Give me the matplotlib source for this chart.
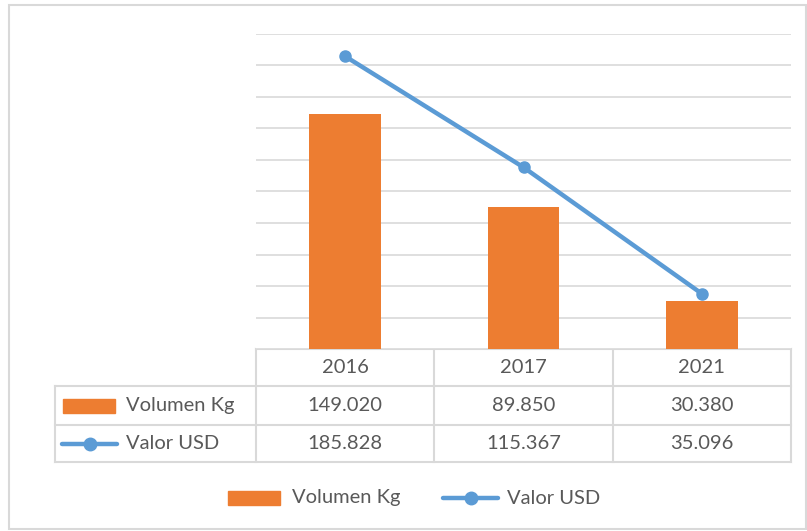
import matplotlib
matplotlib.use("Agg")
import matplotlib.pyplot as plt
from matplotlib.patches import Rectangle
from matplotlib.lines import Line2D

years = ["2016", "2017", "2021"]
volumen_kg = [149020, 89850, 30380]
valor_usd = [185828, 115367, 35096]
volumen_lbl = ["149.020", "89.850", "30.380"]
valor_lbl = ["185.828", "115.367", "35.096"]
series_names = ["Volumen Kg", "Valor USD"]

ORANGE = "#ED7D31"
BLUE = "#5B9BD5"
GRID = "#D9D9D9"
TXT = "#595959"
FONT = ["Lato", "DejaVu Sans"]
FS = 14.5

W, H = 807, 531
fig = plt.figure(figsize=(W / 100, H / 100), dpi=100)

# plot area in pixels
left, right, top, bottom = 256, 791, 34, 349
ax = fig.add_axes([left / W, 1 - bottom / H, (right - left) / W, (bottom - top) / H])
x = range(len(years))
ax.bar(x, volumen_kg, width=0.4, color=ORANGE, zorder=2)
ax.plot(x, valor_usd, color=BLUE, lw=3.2, marker="o", ms=8, zorder=3,
        solid_capstyle="round")
ax.set_xlim(-0.5, len(years) - 0.5)
ax.set_ylim(0, 200000)
ax.set_yticks(range(0, 200001, 20000))
ax.grid(axis="y", color=GRID, lw=1.2, zorder=0)
ax.tick_params(left=False, bottom=False, labelleft=False, labelbottom=False)
for s in ax.spines.values():
    s.set_visible(False)

# overlay in pixel coordinates for border, data table and legend
ov = fig.add_axes([0, 0, 1, 1], zorder=-1)
ov.set_xlim(0, W)
ov.set_ylim(H, 0)
ov.axis("off")
ov.add_patch(Rectangle((9, 5), 797, 524, fill=False, ec=GRID, lw=1.5))

col_w = (right - left) / len(years)
rows = [349, 386, 425, 462]
lab_left = 55
lk = dict(color=GRID, lw=1.5)
# horizontal table lines
ov.plot([left, right], [rows[0], rows[0]], **lk)
for r in rows[1:]:
    ov.plot([lab_left, right], [r, r], **lk)
# vertical table lines
ov.plot([lab_left, lab_left], [rows[1], rows[3]], **lk)
for i in range(len(years) + 1):
    xx = left + i * col_w
    ov.plot([xx, xx], [rows[0], rows[3]], **lk)

tk = dict(color=TXT, fontsize=FS, family=FONT, ha="center", va="center")
for i, yr in enumerate(years):
    cx = left + (i + 0.5) * col_w
    ov.text(cx, (rows[0] + rows[1]) / 2, yr, **tk)
    ov.text(cx, (rows[1] + rows[2]) / 2, volumen_lbl[i], **tk)
    ov.text(cx, (rows[2] + rows[3]) / 2, valor_lbl[i], **tk)

# row keys
def key_bar(x0, yc):
    ov.add_patch(Rectangle((x0, yc - 7), 52, 14, color=ORANGE))

def key_line(x0, yc):
    ov.add_line(Line2D([x0, x0 + 55], [yc, yc], color=BLUE, lw=3.2,
                       solid_capstyle="round"))
    ov.plot([x0 + 27.5], [yc], "o", color=BLUE, ms=9)

lk2 = dict(color=TXT, fontsize=FS, family=FONT, ha="left", va="center")
y1 = (rows[1] + rows[2]) / 2
y2 = (rows[2] + rows[3]) / 2
key_bar(63, y1)
ov.text(126, y1, series_names[0], **lk2)
key_line(62, y2)
ov.text(126, y2, series_names[1], **lk2)

# bottom legend
ly = 498
key_bar(228, ly)
ov.text(292, ly, series_names[0], **lk2)
key_line(443, ly)
ov.text(507, ly, series_names[1], **lk2)

fig.savefig("out.png", dpi=100)
